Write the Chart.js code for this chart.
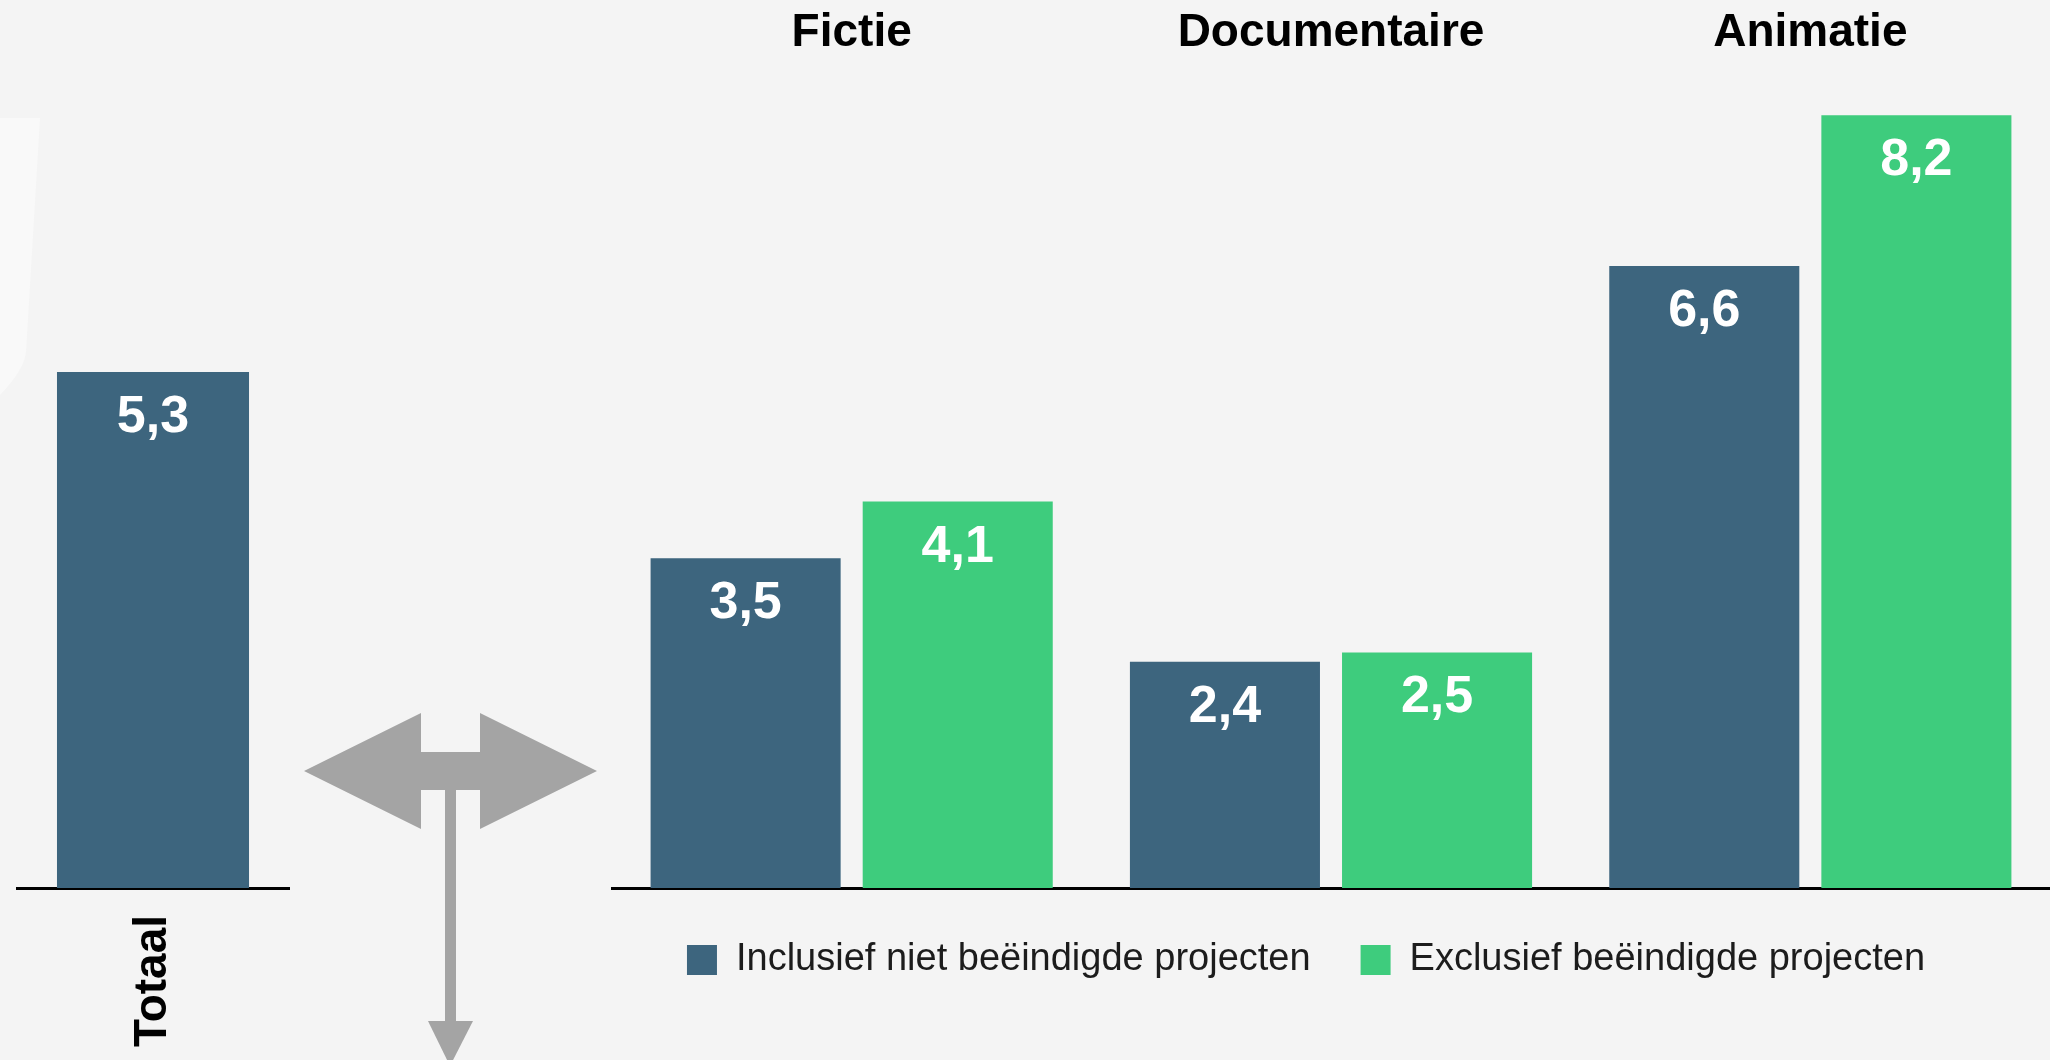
<!DOCTYPE html>
<html>
<head>
<meta charset="utf-8">
<script src="https://cdn.jsdelivr.net/npm/chart.js@4.4.1/dist/chart.umd.min.js"></script>
<style>
  html, body { margin: 0; padding: 0; background: #f4f4f4; overflow: hidden; }
  canvas { position: absolute; left: 0; top: 0; }
</style>
</head>
<body>
<canvas id="genreChart" width="2050" height="1060"></canvas>
<canvas id="totalChart" width="2050" height="1060"></canvas>
<script>
// data
const totalLabels = ["Totaal"];
const totalValues = [5.3];

const genres = ["Fictie", "Documentaire", "Animatie"];
const inclusiefValues = [3.5, 2.4, 6.6];
const exclusiefValues = [4.1, 2.5, 8.2];
const seriesNames = ["Inclusief niet beëindigde projecten", "Exclusief beëindigde projecten"];

const BLUE = "#3d657e";
const GREEN = "#3ecc7d";
const FONT = "'Liberation Sans', Arial, sans-serif";

// white value text inside the top of each bar
const valueLabels = {
  id: "valueLabels",
  afterDatasetsDraw(chart) {
    const ctx = chart.ctx;
    ctx.save();
    ctx.fillStyle = "#ffffff";
    ctx.font = "bold 52px " + FONT;
    ctx.textAlign = "center";
    ctx.textBaseline = "alphabetic";
    chart.data.datasets.forEach((ds, i) => {
      chart.getDatasetMeta(i).data.forEach((bar, j) => {
        const txt = ds.data[j].toFixed(1).replace(".", ",");
        ctx.fillText(txt, bar.x, bar.y + 60);
      });
    });
    ctx.restore();
  }
};

// grey arrow between the two panels + faint shape top left
const decoration = {
  id: "decoration",
  beforeDraw(chart) {
    const ctx = chart.ctx;
    ctx.save();
    ctx.fillStyle = "#f9f9f9";
    ctx.beginPath();
    ctx.moveTo(0, 118);
    ctx.lineTo(40, 118);
    ctx.lineTo(26, 352);
    ctx.quadraticCurveTo(24, 370, 0, 395);
    ctx.closePath();
    ctx.fill();
    ctx.restore();
  },
  afterDraw(chart) {
    const ctx = chart.ctx;
    const cx = 450, cy = 771;
    ctx.save();
    ctx.fillStyle = "#a4a4a4";
    ctx.beginPath();
    ctx.moveTo(cx - 146, cy);
    ctx.lineTo(cx - 29, cy - 58);
    ctx.lineTo(cx - 29, cy - 19);
    ctx.lineTo(cx + 30, cy - 19);
    ctx.lineTo(cx + 30, cy - 58);
    ctx.lineTo(cx + 147, cy);
    ctx.lineTo(cx + 30, cy + 58);
    ctx.lineTo(cx + 30, cy + 19);
    ctx.lineTo(cx - 29, cy + 19);
    ctx.lineTo(cx - 29, cy + 58);
    ctx.closePath();
    ctx.fill();

    ctx.fillRect(cx - 5, cy + 19, 11, 232);
    ctx.beginPath();
    ctx.moveTo(cx - 22, 1021);
    ctx.lineTo(cx + 23, 1021);
    ctx.lineTo(cx, 1066);
    ctx.closePath();
    ctx.fill();
    ctx.restore();
  }
};

Chart.defaults.font.family = FONT;
Chart.defaults.color = "#000";

// left panel: total
new Chart(document.getElementById("totalChart"), {
  type: "bar",
  data: {
    labels: totalLabels,
    datasets: [{
      data: totalValues,
      backgroundColor: BLUE,
      borderWidth: 0,
      categoryPercentage: 1,
      barPercentage: 0.706
    }]
  },
  options: {
    responsive: false,
    animation: false,
    devicePixelRatio: 1,
    layout: { padding: { left: 17, right: 1761, top: 70, bottom: 0 } },
    plugins: { legend: { display: false }, tooltip: { enabled: false } },
    scales: {
      x: {
        offset: true,
        grid: { display: false, drawTicks: false },
        border: { display: true, color: "#000", width: 3 },
        ticks: {
          minRotation: 90,
          maxRotation: 90,
          padding: 27,
          color: "#000",
          font: { size: 46, weight: "bold" }
        },
        afterFit: (scale) => { scale.height = 172; }
      },
      y: { display: false, min: 0, max: 8.4 }
    }
  },
  plugins: [valueLabels, decoration]
});

// right panel: per genre
new Chart(document.getElementById("genreChart"), {
  type: "bar",
  data: {
    labels: genres,
    datasets: [
      {
        label: seriesNames[0],
        data: inclusiefValues,
        backgroundColor: BLUE,
        borderWidth: 0,
        xAxisID: "x",
        categoryPercentage: 0.885,
        barPercentage: 0.896
      },
      {
        label: seriesNames[1],
        data: exclusiefValues,
        backgroundColor: GREEN,
        borderWidth: 0,
        xAxisID: "x",
        categoryPercentage: 0.885,
        barPercentage: 0.896
      }
    ]
  },
  options: {
    responsive: false,
    animation: false,
    devicePixelRatio: 1,
    layout: { padding: { left: 562, right: 0, top: 0, bottom: 71 } },
    plugins: {
      tooltip: { enabled: false },
      legend: {
        position: "bottom",
        labels: {
          boxWidth: 30,
          boxHeight: 30,
          padding: 50,
          color: "#1c1c1c",
          font: { size: 38, weight: "normal" }
        }
      }
    },
    scales: {
      x: {
        position: "bottom",
        offset: true,
        grid: { display: false, drawTicks: false },
        border: { display: true, color: "#000", width: 3 },
        ticks: { display: false },
        afterFit: (scale) => { scale.height = 3; }
      },
      xTop: {
        type: "category",
        position: "top",
        offset: true,
        grid: { display: false, drawTicks: false },
        border: { display: false },
        ticks: {
          padding: 9,
          color: "#000",
          font: { size: 46, weight: "bold" }
        },
        afterFit: (scale) => { scale.height = 70; }
      },
      y: {
        min: 0,
        max: 8.68,
        grid: { display: false, drawTicks: false },
        border: { display: false },
        ticks: { display: false },
        afterFit: (scale) => { scale.width = 50; }
      }
    }
  },
  plugins: [valueLabels]
});
</script>
</body>
</html>
